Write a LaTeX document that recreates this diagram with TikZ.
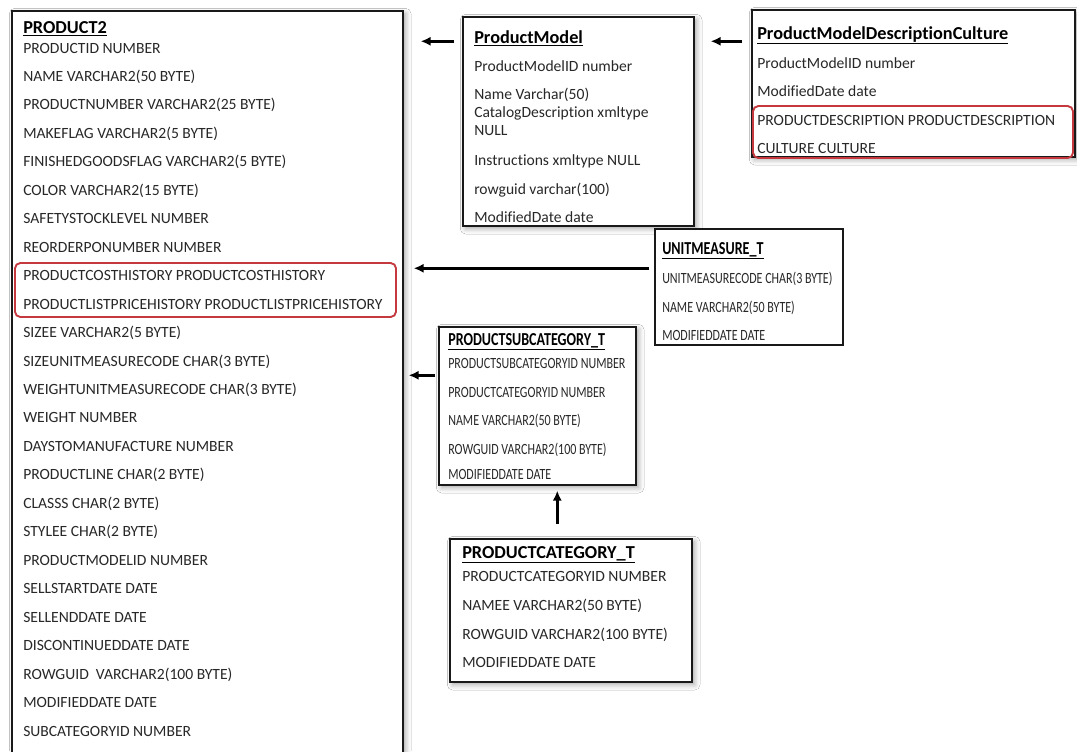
\documentclass[tikz,border=0pt]{standalone}
\usepackage{fontspec}
\setmainfont{Carlito}[Ligatures={NoCommon}]
\usetikzlibrary{arrows.meta,calc,fit,shadows.blur}
\definecolor{rowtext}{RGB}{40,40,40}
\definecolor{framered}{RGB}{196,56,62}
% horizontally condensed text used in two of the tables
\newcommand\cnd[1]{\scalebox{0.77}[1]{#1}}
\tikzset{
  tbl/.style={draw=black!90, line width=1.1pt, fill=white, inner sep=0pt},
  soft/.style={blur shadow={shadow xshift=2pt, shadow yshift=-2pt,
      shadow blur radius=4pt, shadow opacity=35}},
  row/.style={anchor=base west, inner sep=0pt, text=rowtext,
      font=\fontsize{11.7}{13}\selectfont},
  ttl/.style={anchor=base west, inner sep=0pt, text=black,
      font=\bfseries\fontsize{13.7}{15}\selectfont},
  hl/.style={draw=framered, line width=1.4pt, rounded corners=4pt, inner sep=0pt},
  arr/.style={line width=2pt, -{Latex[length=7.5pt,width=7pt]}},
}
\begin{document}
\begin{tikzpicture}[x=0.75pt, y=-0.75pt]
\clip (0,0) rectangle (1077,751);
\fill[white] (0,0) rectangle (1077,751);

% ---- table frames ----
\node[tbl, soft, fit={(12,11) (403,790)}] (p2) {};
\node[tbl, soft, fit={(463,17) (694,226)}] (pm) {};
\node[tbl, soft, fit={(752,10) (1075,157)}] (pmdc) {};
\node[tbl, fit={(655,229) (843,345)}] (um) {};
\node[tbl, soft, fit={(439,327) (636,485)}] (sc) {};
\node[tbl, soft, fit={(450,539) (692,682)}] (cat) {};

% ---- highlighted column groups ----
\node[hl, fit={(15,263) (396,317)}] (p2hl) {};
\node[hl, fit={(753,106) (1073,158)}] (pmdchl) {};

% ---- PRODUCT2 ----
\node[ttl] (p2t) at (23,33) {\underline{PRODUCT2}};
\foreach \t [count=\i] in {PRODUCTID NUMBER, NAME VARCHAR2(50 BYTE),
  PRODUCTNUMBER VARCHAR2(25 BYTE), MAKEFLAG VARCHAR2(5 BYTE),
  FINISHEDGOODSFLAG VARCHAR2(5 BYTE), COLOR VARCHAR2(15 BYTE),
  SAFETYSTOCKLEVEL NUMBER, REORDERPONUMBER NUMBER,
  PRODUCTCOSTHISTORY PRODUCTCOSTHISTORY,
  PRODUCTLISTPRICEHISTORY PRODUCTLISTPRICEHISTORY,
  SIZEE VARCHAR2(5 BYTE), SIZEUNITMEASURECODE CHAR(3 BYTE),
  WEIGHTUNITMEASURECODE CHAR(3 BYTE), WEIGHT NUMBER,
  DAYSTOMANUFACTURE NUMBER, PRODUCTLINE CHAR(2 BYTE), CLASSS CHAR(2 BYTE),
  STYLEE CHAR(2 BYTE), PRODUCTMODELID NUMBER, SELLSTARTDATE DATE,
  SELLENDDATE DATE, DISCONTINUEDDATE DATE, ROWGUID\ \ VARCHAR2(100 BYTE),
  MODIFIEDDATE DATE, SUBCATEGORYID NUMBER}
  \node[row] (p2r\i) at (23,{53+28.46*(\i-1)}) {\t};

% ---- ProductModel ----
\node[ttl] (pmt) at (474,43) {\underline{ProductModel}};
\node[row] (pmr1) at (474,71) {ProductModelID number};
\node[row] (pmr2) at (474,99) {Name Varchar(50)};
\node[row] (pmr3) at (474,117) {CatalogDescription xmltype};
\node[row] (pmr4) at (474,135) {NULL};
\node[row] (pmr5) at (474,165) {Instructions xmltype NULL};
\node[row] (pmr6) at (474,194) {rowguid varchar(100)};
\node[row] (pmr7) at (474,222) {ModifiedDate date};

% ---- ProductModelDescriptionCulture ----
\node[ttl] (pmdct) at (757,39) {\underline{ProductModelDescriptionCulture}};
\node[row] (pmdcr1) at (757,68) {ProductModelID number};
\node[row] (pmdcr2) at (757,96) {ModifiedDate date};
\node[row] (pmdcr3) at (757,125) {PRODUCTDESCRIPTION PRODUCTDESCRIPTION};
\node[row] (pmdcr4) at (757,153) {CULTURE CULTURE};

% ---- UNITMEASURE_T ----
\node[ttl] (umt) at (662,254) {\cnd{\underline{UNITMEASURE\_T}}};
\node[row] (umr1) at (662,283) {\cnd{UNITMEASURECODE CHAR(3 BYTE)}};
\node[row] (umr2) at (662,312) {\cnd{NAME VARCHAR2(50 BYTE)}};
\node[row] (umr3) at (662,340) {\cnd{MODIFIEDDATE DATE}};

% ---- PRODUCTSUBCATEGORY_T ----
\node[ttl] (sct) at (448,345) {\cnd{\underline{PRODUCTSUBCATEGORY\_T}}};
\node[row] (scr1) at (448,368) {\cnd{PRODUCTSUBCATEGORYID NUMBER}};
\node[row] (scr2) at (448,397) {\cnd{PRODUCTCATEGORYID NUMBER}};
\node[row] (scr3) at (448,425) {\cnd{NAME VARCHAR2(50 BYTE)}};
\node[row] (scr4) at (448,454) {\cnd{ROWGUID VARCHAR2(100 BYTE)}};
\node[row] (scr5) at (448,479) {\cnd{MODIFIEDDATE DATE}};

% ---- PRODUCTCATEGORY_T ----
\node[ttl] (catt) at (462,558) {\underline{PRODUCTCATEGORY\_T}};
\node[row] (catr1) at (462,581) {PRODUCTCATEGORYID NUMBER};
\node[row] (catr2) at (462,610) {NAMEE VARCHAR2(50 BYTE)};
\node[row] (catr3) at (462,639) {ROWGUID VARCHAR2(100 BYTE)};
\node[row] (catr4) at (462,667) {MODIFIEDDATE DATE};

% ---- references ----
\draw[arr] ($(pm.north west)+(-8,25)$) -- ($(p2.north east)+(17,31)$);
\draw[arr] ($(pmdc.north west)+(-9,32)$) -- ($(pm.north east)+(16,25)$);
\draw[arr] ($(um.north west)+(-5,40)$) -- ($(p2.north east)+(10,258)$);
\draw[arr] ($(sc.north west)+(-3,49)$) -- ($(p2.north east)+(5,365)$);
\draw[arr] ($(cat.north west)+(108,-14)$) -- ($(sc.south west)+(119,5)$);
\end{tikzpicture}
\end{document}
